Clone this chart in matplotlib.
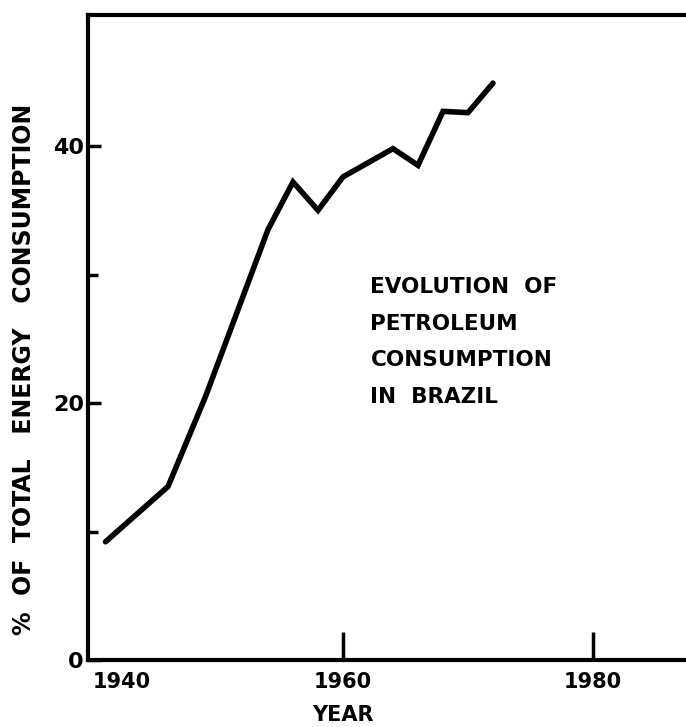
import matplotlib
matplotlib.use('Agg')
from matplotlib import pyplot as plt
from matplotlib.ticker import FixedLocator

# values
years = [1941, 1946, 1949, 1954, 1956, 1958, 1960, 1964, 1966, 1968, 1970, 1972]
petroleum_share = [9.2, 13.5, 20.5, 33.5, 37.2, 35.0, 37.6, 39.8, 38.5, 42.7, 42.6, 44.9]

x_ticks = [1940, 1960, 1980]
x_tick_labels = ['1940', '1960', '1980']
y_ticks = [0, 20, 40]
y_minor = [10, 30]

note = 'EVOLUTION  OF\nPETROLEUM\nCONSUMPTION\nIN  BRAZIL'

plt.rcParams['font.family'] = ['DejaVu Sans']
plt.rcParams['font.weight'] = 'bold'

fig = plt.figure(figsize=(6.86, 7.27), dpi=100)
W, H = 686, 727
left, right, top, bottom = 88, 703, 15, 660
ax = fig.add_axes([left / W, 1 - bottom / H, (right - left) / W, (bottom - top) / H])

ax.plot(years, petroleum_share, color='black', linewidth=4.0, solid_joinstyle='miter',
        solid_capstyle='round')

ax.set_xlim(1939.6, 1988.8)
ax.set_ylim(0, 50.2)

for s in ax.spines.values():
    s.set_linewidth(3)

ax.xaxis.set_major_locator(FixedLocator(x_ticks))
ax.set_xticklabels(x_tick_labels, fontsize=15, fontweight='bold')
ax.yaxis.set_major_locator(FixedLocator(y_ticks))
ax.yaxis.set_minor_locator(FixedLocator(y_minor))
ax.tick_params(axis='x', direction='in', length=20, width=2.5, pad=9)
ax.tick_params(axis='y', which='major', direction='in', length=9, width=2.5, pad=3,
               labelsize=16)
ax.tick_params(axis='y', which='minor', direction='in', length=7, width=2.5)
ax.xaxis.get_majorticklines()[0].set_visible(False)
for lab in ax.get_xticklabels():
    lab.set_fontweight('bold')
for lab in ax.get_yticklabels():
    lab.set_fontweight('bold')
# 1940 label sits right of the axis in the original
ax.get_xticklabels()[0].set_horizontalalignment('left')

ax.set_xlabel('YEAR', fontsize=15, fontweight='bold', labelpad=9)
ax.xaxis.label.set_x((1960 - 1939.6) / (1988.8 - 1939.6))
ax.set_ylabel('%  OF  TOTAL   ENERGY   CONSUMPTION', fontsize=17, fontweight='bold',
              labelpad=12)
ax.yaxis.label.set_y(0.45)

ax.text(1962.2, 29.8, note, fontsize=15.5, fontweight='bold', va='top', ha='left',
        linespacing=2.03)

fig.savefig('out.png', dpi=100)
